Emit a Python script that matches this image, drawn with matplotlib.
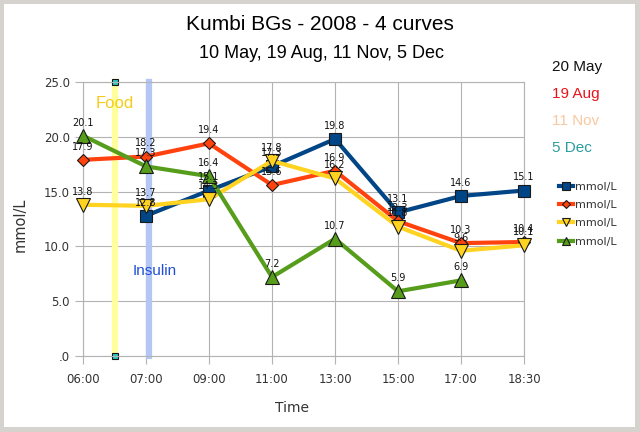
import matplotlib
matplotlib.use("Agg")
import matplotlib.pyplot as plt
import matplotlib.patches as mpatches
import numpy as np

times = ["06:00", "07:00", "09:00", "11:00", "13:00", "15:00", "17:00", "18:30"]

may_20 = [np.nan, 12.8, 15.1, 17.3, 19.8, 13.1, 14.6, 15.1]
aug_19 = [17.9, 18.2, 19.4, 15.6, 16.9, 12.3, 10.3, 10.4]
nov_11 = [13.8, 13.7, 14.3, 17.8, 16.2, 11.8, 9.6, 10.1]
dec_5 = [20.1, 17.3, 16.4, 7.2, 10.7, 5.9, 6.9, np.nan]

food_x = [0.5, 0.5]
food_y = [0, 25]
insulin_x = [1.05, 1.05]
insulin_y = [0, 25]

yticks = [0, 5, 10, 15, 20, 25]
ytick_labels = [".0", "5.0", "10.0", "15.0", "20.0", "25.0"]

dates = ["20 May", "19 Aug", "11 Nov", "5 Dec"]
date_colors = ["#111111", "#e8141c", "#f9c8a0", "#2a9d9d"]

series = [
    (may_20, "#004586", "s", 9.0),
    (aug_19, "#ff420e", "D", 6.5),
    (nov_11, "#ffd320", "v", 9.5),
    (dec_5, "#579d1c", "^", 9.5),
]

fig = plt.figure(figsize=(6.4, 4.32), dpi=100, facecolor="#d6d3ce")
# white panel inside the grey frame
fig.patches.append(mpatches.Rectangle((4 / 640, 5 / 432), 631 / 640, 423 / 432,
                                      transform=fig.transFigure, facecolor="white",
                                      edgecolor="none", zorder=-1))

ax = fig.add_axes([83 / 640, 1 - 356 / 432, 441 / 640, 274 / 432])
ax.set_zorder(1)
ax.set_facecolor("white")

x = np.arange(len(times))

# food / insulin markers
ax.plot(food_x, food_y, color="#ffff9e", lw=4.5, marker="s", ms=5,
        mfc="#2fc4c4", mec="#111111", mew=0.8, zorder=2, clip_on=False)
ax.plot(insulin_x, insulin_y, color="#b3c6f4", lw=4.5, zorder=2, clip_on=False)

handles = []
for vals, col, mk, ms in series:
    ln, = ax.plot(x, vals, color=col, lw=3, marker=mk, ms=ms, mfc=col,
                  mec="#1a1a1a", mew=0.8, zorder=3, clip_on=False, label="mmol/L")
    handles.append(ln)
    for xi, v in zip(x, vals):
        if np.isnan(v):
            continue
        ax.annotate(f"{v:.1f}", (xi, v), xytext=(0, 9.5), textcoords="offset points",
                    ha="center", va="center", fontsize=7, color="#111111", zorder=5)

ax.set_xlim(0, len(times) - 1)
ax.set_ylim(0, 25)
ax.set_xticks(x)
ax.set_xticklabels(times)
ax.set_yticks(yticks)
ax.set_yticklabels(ytick_labels)
ax.tick_params(colors="#b3b3b3", labelcolor="#333333", labelsize=8.5, length=6, width=0.8)
ax.tick_params(axis="x", pad=6)
ax.grid(True, color="#b3b3b3", lw=0.8)
ax.set_axisbelow(True)
for sp in ax.spines.values():
    sp.set_color("#b3b3b3")
    sp.set_linewidth(0.8)

ax.set_xlabel("Time", fontsize=10, color="#333333")
ax.set_ylabel("mmol/L", fontsize=10.5, color="#333333")
ax.xaxis.set_label_coords(0.474, -0.165)
ax.yaxis.set_label_coords(-0.125, 0.48)

ax.text(0.5, 23.0, "Food", color="#f5cc1a", fontsize=12, ha="center", va="center",
        family="Liberation Sans")
ax.text(1.13, 7.8, "Insulin", color="#1f4fd8", fontsize=11, ha="center", va="center",
        family="Liberation Sans")

fig.text(0.5, 1 - 25 / 432, "Kumbi BGs - 2008 - 4 curves", ha="center", va="center",
         fontsize=15, family="Liberation Sans")
fig.text(0.503, 1 - 53 / 432, "10 May, 19 Aug, 11 Nov, 5 Dec", ha="center", va="center",
         fontsize=13, family="Liberation Sans")

for i, (d, c) in enumerate(zip(dates, date_colors)):
    fig.text(552 / 640, 1 - (67 + i * 27) / 432, d, color=c, ha="left", va="center",
             fontsize=11, family="Liberation Sans")

leg = fig.legend(handles=handles, loc="upper left", bbox_to_anchor=(553 / 640, 1 - 176 / 432),
                 frameon=False, fontsize=8, markerscale=0.6, handlelength=1.3,
                 handletextpad=0.2, labelspacing=0.75, borderpad=0)
for t in leg.get_texts():
    t.set_color("#333333")

fig.savefig("out.png", dpi=100, facecolor=fig.get_facecolor())
